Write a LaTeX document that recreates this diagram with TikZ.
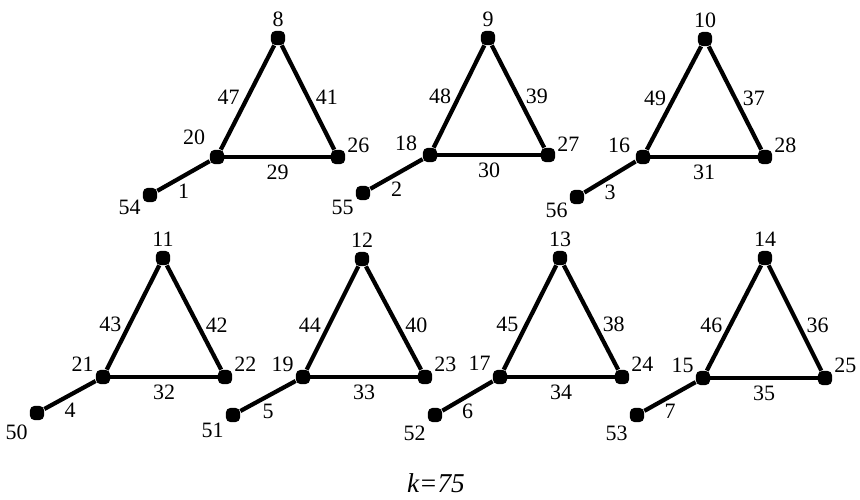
\documentclass[tikz,border=0pt]{standalone}
\usepackage{fontspec}
\setmainfont{Liberation Serif}
\begin{document}
\begin{tikzpicture}[x=0.02cm, y=-0.02cm, font=\fontsize{12.5}{14}\selectfont, vertex/.style={rectangle, rounded corners=2.5pt, fill=black, minimum size=8pt, inner sep=0pt}, edge/.style={line width=2.4pt}, every label/.style={inner sep=1pt}]

		\useasboundingbox (0,0) rectangle (860,500);

		% upper row
		\node[vertex, label={[label distance=1pt]above:8}] (8) at (278,38) {};
		\node[vertex, label={[label distance=2pt]135:20}] (20) at (217,157) {};
		\node[vertex, label=15:26] (26) at (338,157) {};
		\node[vertex, label=200:54] (54) at (150,195) {};

		\node[vertex, label={[label distance=1pt]above:9}] (9) at (488,38) {};
		\node[vertex, label={[label distance=2pt]170:18}] (18) at (430,155) {};
		\node[vertex, label=12:27] (27) at (548,155) {};
		\node[vertex, label=215:55] (55) at (363,193) {};

		\node[vertex, label={[label distance=1pt]above:10}] (10) at (705,39) {};
		\node[vertex, label={[label distance=2pt]170:16}] (16) at (643,157) {};
		\node[vertex, label=15:28] (28) at (765,157) {};
		\node[vertex, label=205:56] (56) at (577,197) {};

		% lower row
		\node[vertex, label={[label distance=1pt]above:11}] (11) at (163,258) {};
		\node[vertex, label=155:21] (21) at (103,377) {};
		\node[vertex, label=25:22] (22) at (225,377) {};
		\node[vertex, label={[label distance=2pt]235:50}] (50) at (37,413) {};

		\node[vertex, label={[label distance=1pt]above:12}] (12) at (362,259) {};
		\node[vertex, label=155:19] (19) at (303,377) {};
		\node[vertex, label=25:23] (23) at (425,377) {};
		\node[vertex, label=220:51] (51) at (233,415) {};

		\node[vertex, label={[label distance=1pt]above:13}] (13) at (560,258) {};
		\node[vertex, label=150:17] (17) at (500,377) {};
		\node[vertex, label=25:24] (24) at (622,377) {};
		\node[vertex, label={[label distance=1pt]230:52}] (52) at (435,415) {};

		\node[vertex, label={[label distance=1pt]above:14}] (14) at (765,258) {};
		\node[vertex, label=155:15] (15) at (703,378) {};
		\node[vertex, label=25:25] (25) at (825,378) {};
		\node[vertex, label={[label distance=1pt]230:53}] (53) at (637,415) {};

		\draw[edge] (20) -- node[left] {47} (8);
		\draw[edge] (8) -- node[right] {41} (26);
		\draw[edge] (20) -- node[below] {29} (26);
		\draw[edge] (54) -- node[below] {1} (20);

		\draw[edge] (18) -- node[left] {48} (9);
		\draw[edge] (9) -- node[right] {39} (27);
		\draw[edge] (18) -- node[below] {30} (27);
		\draw[edge] (55) -- node[below] {2} (18);

		\draw[edge] (16) -- node[left] {49} (10);
		\draw[edge] (10) -- node[right] {37} (28);
		\draw[edge] (16) -- node[below] {31} (28);
		\draw[edge] (56) -- node[below] {3} (16);

		\draw[edge] (21) -- node[left, pos=0.43] {43} (11);
		\draw[edge] (11) -- node[right, pos=0.57] {42} (22);
		\draw[edge] (21) -- node[below] {32} (22);
		\draw[edge] (50) -- node[below] {4} (21);

		\draw[edge] (19) -- node[left, pos=0.43] {44} (12);
		\draw[edge] (12) -- node[right, pos=0.57] {40} (23);
		\draw[edge] (19) -- node[below] {33} (23);
		\draw[edge] (51) -- node[below] {5} (19);

		\draw[edge] (17) -- node[left, pos=0.43] {45} (13);
		\draw[edge] (13) -- node[right, pos=0.57] {38} (24);
		\draw[edge] (17) -- node[below] {34} (24);
		\draw[edge] (52) -- node[below] {6} (17);

		\draw[edge] (15) -- node[left, pos=0.43] {46} (14);
		\draw[edge] (14) -- node[right, pos=0.57] {36} (25);
		\draw[edge] (15) -- node[below] {35} (25);
		\draw[edge] (53) -- node[below] {7} (15);

		\node[font=\fontsize{15.5}{18}\selectfont] (k) at (436,483) {\textit{k=75}};

	\end{tikzpicture}
\end{document}
